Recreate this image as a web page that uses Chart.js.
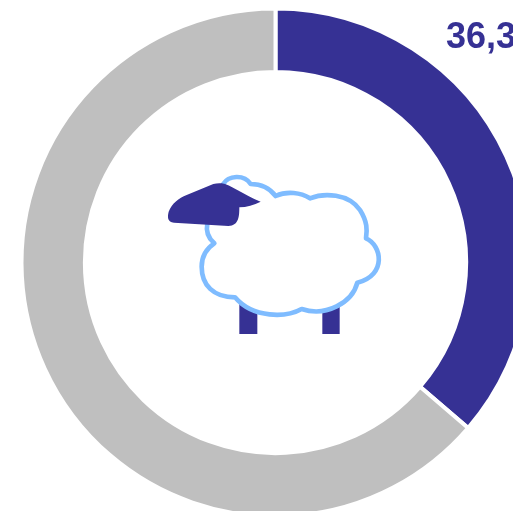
<!DOCTYPE html>
<html>
<head>
<meta charset="utf-8">
<script src="https://cdn.jsdelivr.net/npm/chart.js@4"></script>
<style>
    html, body { margin: 0; padding: 0; width: 513px; height: 511px; overflow: hidden; background: #fff; }
    canvas { position: absolute; left: 0; top: 0; }
</style>
</head>
<body>
<canvas id="myChart" width="551" height="525"></canvas>
<script>
const categories = ['Ovino', 'Resto'];
const valores = [36.3, 63.7];
const colores = ['#363194', '#bfbfbf'];
const etiqueta = '36,3 %';

// Oveja del centro, en pixeles de la imagen x3 (origen en 150,160)
const cuerpo = new Path2D('M220 72 C235 46 282 42 302 72 C318 72 352 75 377 108 C412 92 452 98 480 115 C522 98 595 100 630 150 C652 185 652 210 648 235 C695 255 712 345 622 368 C607 428 527 472 455 447 C410 472 310 477 255 412 C190 412 155 375 155 320 C155 290 170 265 193 250 C172 232 168 210 172 190 Z');
const cabeza = new Path2D('M215 70 C240 73 280 105 332 125 C312 135 290 142 268 142 C268 165 268 198 235 198 L72 188 C52 186 52 170 56 155 C66 130 86 115 110 105 L190 72 C198 70 207 69 215 70 Z');

const ovejaPlugin = {
    id: 'oveja',
    afterDraw(chart) {
        const ctx = chart.ctx;
        ctx.save();

        // texto del porcentaje
        ctx.fillStyle = colores[0];
        ctx.font = 'bold 36px "Liberation Sans"';
        ctx.textBaseline = 'alphabetic';
        ctx.fillText(etiqueta, 446, 48);

        ctx.translate(150, 160);
        ctx.scale(1 / 3, 1 / 3);

        // patas
        ctx.fillStyle = colores[0];
        ctx.fillRect(268, 425, 54, 97);
        ctx.fillRect(517, 425, 52, 97);

        ctx.fillStyle = '#fff';
        ctx.fill(cuerpo);
        ctx.strokeStyle = '#7fbcff';
        ctx.lineWidth = 14;
        ctx.lineJoin = 'round';
        ctx.stroke(cuerpo);

        ctx.fillStyle = colores[0];
        ctx.fill(cabeza);
        ctx.restore();
    }
};

new Chart(document.getElementById('myChart').getContext('2d'), {
    type: 'doughnut',
    data: {
        labels: categories,
        datasets: [{
            data: valores,
            backgroundColor: colores,
            borderColor: '#fff',
            borderWidth: 4
        }]
    },
    options: {
        responsive: false,
        animation: false,
        radius: 254,
        cutout: 195.5,
        plugins: {
            legend: { display: false },
            tooltip: { enabled: false }
        }
    },
    plugins: [ovejaPlugin]
});
</script>
</body>
</html>
